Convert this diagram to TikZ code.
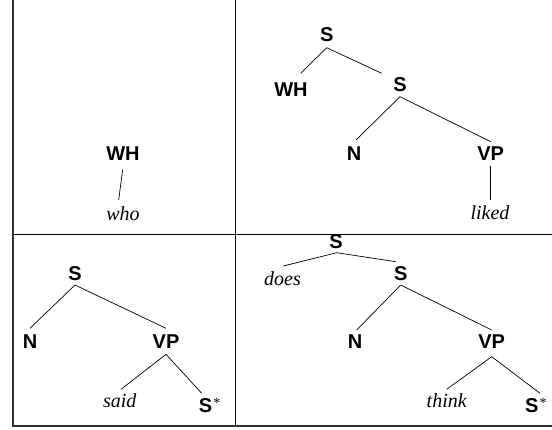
\documentclass[tikz,border=0pt]{standalone}
\usepackage{fontspec}
\setmainfont{Liberation Serif}
\newfontfamily\hvfont{Liberation Sans}
\begin{document}
\begin{tikzpicture}[x=1pt,y=-1pt,
  cat/.style={inner sep=0pt,anchor=base,font=\hvfont\bfseries\fontsize{20}{20}\selectfont},
  word/.style={inner sep=0pt,anchor=base,font=\itshape\fontsize{20}{20}\selectfont},
  edge/.style={draw=black,line width=0.7pt},
  frame/.style={draw=black!80,line width=1.1pt},
  divider/.style={draw=black,line width=0.9pt}]
\useasboundingbox (0,0) rectangle (552,429);
% frame
\coordinate (tl) at (13,0);
\coordinate (bl) at (13,426);
\coordinate (br) at (552,426);
\coordinate (vt) at (235.3,0);
\coordinate (vb) at (235.3,426);
\coordinate (hl) at (13,234.3);
\coordinate (hr) at (552,234.3);
\draw[divider] (vt) -- (vb);
\draw[divider] (hl) -- (hr);
\draw[frame] (tl) -- (bl) -- (br);
\newcommand{\sstar}{S\rlap{\hspace{1.2pt}\raisebox{5pt}{\normalfont\mdseries\upshape\fontsize{14}{14}\selectfont *}}}
% panel 1
\node[cat] (wh1) at (123,160) {WH};
\node[word] (who) at (123,220) {who};
\draw[edge] ([shift={(-0.3,9.3)}]wh1.base) -- ([shift={(-4.3,-20)}]who.base);
% panel 2
\node[cat] (sa) at (326.7,41.7) {S};
\node[cat] (wha) at (291,96.7) {WH};
\node[cat] (sb) at (400,91.7) {S};
\node[cat] (na) at (354,160) {N};
\node[cat] (vpa) at (490.7,160) {VP};
\node[word] (liked) at (490,219) {liked};
\draw[edge] ([shift={(0,6)}]sa.base) -- ([shift={(9.7,-23.4)}]wha.base);
\draw[edge] ([shift={(0,6)}]sa.base) -- ([shift={(-18.3,-18.4)}]sb.base);
\draw[edge] ([shift={(0,5)}]sb.base) -- ([shift={(2,-20)}]na.base);
\draw[edge] ([shift={(0,5)}]sb.base) -- ([shift={(0,-18.3)}]vpa.base);
\draw[edge] ([shift={(0,5.7)}]vpa.base) -- ([shift={(0.7,-19)}]liked.base);
% panel 3
\node[cat] (sc) at (75,280) {S};
\node[cat] (nc) at (30,348.3) {N};
\node[cat] (vpc) at (166,348.3) {VP};
\node[word] (said) at (119.8,407.3) {said};
\node[cat] (ssc) at (205.5,412.7) {\sstar};
\draw[edge] ([shift={(0,5)}]sc.base) -- ([shift={(0,-20)}]nc.base);
\draw[edge] ([shift={(0,5)}]sc.base) -- ([shift={(0,-20)}]vpc.base);
\draw[edge] ([shift={(0,6)}]vpc.base) -- ([shift={(1.2,-18)}]said.base);
\draw[edge] ([shift={(0,6)}]vpc.base) -- ([shift={(-3.8,-19.4)}]ssc.base);
% panel 4
\node[cat] (sd) at (336,248.3) {S};
\node[word] (does) at (282.5,285.7) {does};
\node[cat] (se) at (400.7,280) {S};
\node[cat] (nd) at (355,348.3) {N};
\node[cat] (vpd) at (491.7,348.3) {VP};
\node[word] (think) at (446.7,407.3) {think};
\node[cat] (ssd) at (531.7,412.7) {\sstar};
\draw[edge] ([shift={(0.7,4.4)}]sd.base) -- ([shift={(0.8,-19.7)}]does.base);
\draw[edge] ([shift={(0.7,4.4)}]sd.base) -- ([shift={(-5,-18.3)}]se.base);
\draw[edge] ([shift={(0,5)}]se.base) -- ([shift={(1.7,-18.3)}]nd.base);
\draw[edge] ([shift={(0,5)}]se.base) -- ([shift={(0,-18.3)}]vpd.base);
\draw[edge] ([shift={(0,8.4)}]vpd.base) -- ([shift={(0,-18)}]think.base);
\draw[edge] ([shift={(0,8.4)}]vpd.base) -- ([shift={(8.3,-19.4)}]ssd.base);
\end{tikzpicture}
\end{document}
